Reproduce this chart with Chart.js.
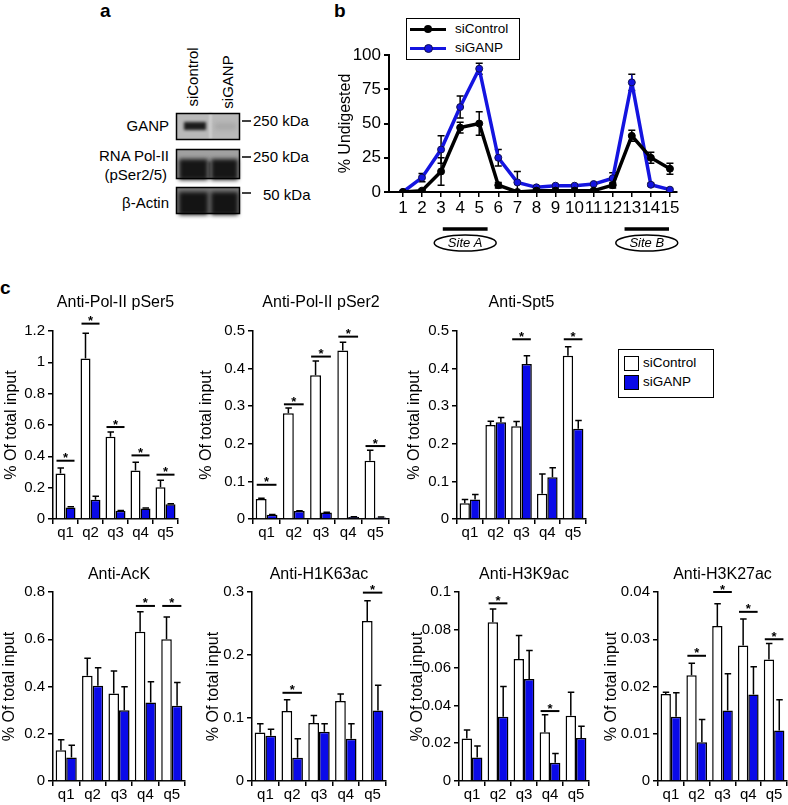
<!DOCTYPE html>
<html>
<head>
<meta charset="utf-8">
<script src="https://cdn.jsdelivr.net/npm/chart.js@4.4.1/dist/chart.umd.min.js"></script>
<style>
  html, body { margin:0; padding:0; background:#fff; width:788px; height:805px; overflow:hidden; position:relative; }
  body { font-family: 'Liberation Sans', Arial, Helvetica, sans-serif; color:#000; }
  .abs { position:absolute; white-space:nowrap; }
  canvas { position:absolute; }
  .plabel { position:absolute; font-weight:bold; font-size:19px; line-height:19px; }
  .t15 { font-size:15px; line-height:18px; }
  .t13 { font-size:13.5px; line-height:16px; }
</style>
</head>
<body>
<script>
// ---------------- DATA ----------------
const categories = ['q1', 'q2', 'q3', 'q4', 'q5'];

// panel b: restriction-digestion positions
const positions = [1,2,3,4,5,6,7,8,9,10,11,12,13,14,15];
const digestControl    = [0, 1, 15, 47, 50, 5, 0, 1, 1, 1, 1, 5, 41, 25, 17];
const digestControlErr = [0, 1, 10, 4, 8.5, 2, 0, 0, 0, 0, 0, 2, 4, 4, 4];
const digestGANP       = [0, 10.5, 31, 62, 90, 25, 7, 3.4, 4.6, 4.6, 5.8, 10, 80, 5.3, 1.7];
const digestGANPErr    = [0, 3, 10, 8, 4, 6, 8, 0, 0, 0, 0, 4, 6, 1, 0];
const digestTicks = [0, 25, 50, 75, 100];

// panel c
const pSer5Control   = [0.29, 1.025, 0.525, 0.31, 0.203];
const pSer5ControlSD = [0.035, 0.16, 0.03, 0.052, 0.044];
const pSer5GANP      = [0.074, 0.123, 0.052, 0.067, 0.094];
const pSer5GANPSD    = [0.004, 0.022, 0.003, 0.004, 0.004];
const pSer5Sig       = [0.372, 1.247, 0.587, 0.406, 0.283];

const pSer2Control   = [0.053, 0.281, 0.382, 0.448, 0.155];
const pSer2ControlSD = [0.002, 0.014, 0.038, 0.022, 0.028];
const pSer2GANP      = [0.011, 0.021, 0.017, 0.005, 0.004];
const pSer2GANPSD    = [0.001, 0.001, 0.001, 0.001, 0.001];
const pSer2Sig       = [0.091, 0.305, 0.432, 0.485, 0.194];

const spt5Control    = [0.042, 0.25, 0.247, 0.067, 0.434];
const spt5ControlSD  = [0.01, 0.01, 0.012, 0.053, 0.024];
const spt5GANP       = [0.052, 0.257, 0.412, 0.111, 0.24];
const spt5GANPSD     = [0.013, 0.013, 0.022, 0.025, 0.022];
const spt5Sig        = [null, null, 0.478, null, 0.478];

const ackControl     = [0.13, 0.445, 0.37, 0.632, 0.6];
const ackControlSD   = [0.045, 0.075, 0.096, 0.084, 0.094];
const ackGANP        = [0.1, 0.403, 0.3, 0.332, 0.318];
const ackGANPSD      = [0.051, 0.076, 0.099, 0.088, 0.099];
const ackSig         = [null, null, null, 0.741, 0.741];

const h1k63Control   = [0.077, 0.111, 0.092, 0.127, 0.254];
const h1k63ControlSD = [0.014, 0.018, 0.012, 0.011, 0.032];
const h1k63GANP      = [0.072, 0.037, 0.078, 0.067, 0.112];
const h1k63GANPSD    = [0.01, 0.03, 0.013, 0.024, 0.04];
const h1k63Sig       = [null, 0.14, null, null, 0.299];

const h3k9Control    = [0.0225, 0.084, 0.0645, 0.0258, 0.0345];
const h3k9ControlSD  = [0.0045, 0.007, 0.0125, 0.0092, 0.0125];
const h3k9GANP       = [0.0124, 0.034, 0.054, 0.0096, 0.0227];
const h3k9GANPSD     = [0.0061, 0.016, 0.015, 0.005, 0.0063];
const h3k9Sig        = [null, 0.094, null, 0.037, null];

const h3k27Control   = [0.0184, 0.0224, 0.0328, 0.0287, 0.0257];
const h3k27ControlSD = [0.0004, 0.0025, 0.0047, 0.0056, 0.0034];
const h3k27GANP      = [0.0136, 0.0082, 0.0149, 0.0183, 0.0107];
const h3k27GANPSD    = [0.0051, 0.0048, 0.0078, 0.0059, 0.0065];
const h3k27Sig       = [null, 0.0265, 0.04, 0.0358, 0.03];
</script>

<!-- panel labels -->
<div class="plabel" style="left:100px;top:1px;">a</div>
<div class="plabel" style="left:334px;top:1px;">b</div>
<div class="plabel" style="left:0px;top:278px;">c</div>

<!-- panel a : western blot -->
<div class="abs t15" style="left:158px;top:68px;width:70px;text-align:center;transform:rotate(-90deg);">siControl</div>
<div class="abs t15" style="left:193px;top:73px;width:70px;text-align:center;transform:rotate(-90deg);">siGANP</div>
<div class="abs t15" style="left:0;width:169px;text-align:right;top:117px;">GANP</div>
<div class="abs t15" style="left:0;width:169px;text-align:right;top:147px;">RNA Pol-II</div>
<div class="abs t15" style="left:0;width:167px;text-align:right;top:166px;">(pSer2/5)</div>
<div class="abs t15" style="left:0;width:169px;text-align:right;top:194px;">β-Actin</div>
<div class="abs t15" style="left:253px;top:112px;">250 kDa</div>
<div class="abs t15" style="left:253px;top:148px;">250 kDa</div>
<div class="abs t15" style="left:263px;top:186px;">50 kDa</div>
<canvas id="blot" width="90" height="115" style="left:170px;top:105px;"></canvas>

<!-- panel b legend -->
<div class="abs" style="left:406px;top:18px;width:114px;height:42px;border:1.5px solid #000;box-sizing:border-box;">
  <div class="abs" style="left:3px;top:9px;width:36px;height:3px;background:#000;"></div>
  <div class="abs" style="left:17px;top:6px;width:8px;height:8px;border-radius:50%;background:#000;"></div>
  <div class="abs t13" style="left:48px;top:2px;">siControl</div>
  <div class="abs" style="left:3px;top:28px;width:36px;height:3px;background:#1414e0;"></div>
  <div class="abs" style="left:17px;top:25px;width:7px;height:7px;border-radius:50%;background:#1414e0;border:1px solid #101050;"></div>
  <div class="abs t13" style="left:48px;top:21px;">siGANP</div>
</div>
<canvas id="chartB" width="346" height="260" style="left:336px;top:0px;"></canvas>

<!-- panel c legend -->
<div class="abs" style="left:618px;top:349px;width:96px;height:49px;border:1.5px solid #000;box-sizing:border-box;">
  <div class="abs" style="left:5px;top:6px;width:13px;height:13px;border:1px solid #000;background:#fff;"></div>
  <div class="abs t13" style="left:24px;top:5px;">siControl</div>
  <div class="abs" style="left:5px;top:25px;width:13px;height:13px;border:1px solid #000;background:#0a0ae8;"></div>
  <div class="abs t13" style="left:24px;top:24px;">siGANP</div>
</div>

<canvas id="c1" width="177" height="265" style="left:2px;top:280px;"></canvas>
<canvas id="c2" width="193" height="265" style="left:197px;top:280px;"></canvas>
<canvas id="c3" width="182" height="265" style="left:405px;top:280px;"></canvas>
<canvas id="c4" width="186" height="257" style="left:0px;top:548px;"></canvas>
<canvas id="c5" width="183" height="257" style="left:204px;top:548px;"></canvas>
<canvas id="c6" width="182" height="257" style="left:408px;top:548px;"></canvas>
<canvas id="c7" width="186" height="257" style="left:602px;top:548px;"></canvas>

<script>
const FONT = "'Liberation Sans', Arial, Helvetica, sans-serif";
const BLUE = '#0a0ae8';
Chart.defaults.font.family = FONT;
Chart.defaults.color = '#000';

// ---------- blot (panel a image, not a chart) ----------
(function drawBlot() {
  const c = document.getElementById('blot');
  const ctx = c.getContext('2d');
  const ox = 170, oy = 105;
  function box(y0, y1, bg) {
    ctx.fillStyle = bg;
    ctx.fillRect(176 - ox, y0 - oy, 64, y1 - y0);
  }
  function band(x0, x1, y0, y1, col, blur) {
    ctx.save();
    ctx.filter = 'blur(' + blur + 'px)';
    ctx.fillStyle = col;
    ctx.fillRect(x0 - ox, y0 - oy, x1 - x0, y1 - y0);
    ctx.restore();
  }
  function frame(y0, y1) {
    ctx.strokeStyle = '#000'; ctx.lineWidth = 1.5;
    ctx.strokeRect(176.5 - ox, y0 - oy + 0.5, 63, y1 - y0);
  }
  // GANP
  box(113, 139, '#b9b9b9');
  band(209, 212, 113, 139, '#cdcdcd', 1);
  band(184, 206, 122, 130, '#1c1c1c', 1.5);
  band(215, 236, 123, 130, '#a8a8a8', 2);
  frame(113, 139);
  // Pol II
  box(149, 178, '#a0a0a0');
  band(179, 208, 159, 180, '#161616', 2);
  band(211, 238, 159, 180, '#161616', 2);
  band(208, 211, 162, 178, '#3a3a3a', 1);
  frame(149, 178);
  // actin
  box(187, 213, '#7a7a7a');
  band(179, 208, 192, 215, '#141414', 2);
  band(211, 238, 192, 215, '#141414', 2);
  frame(187, 213);
  ctx.clearRect(0, 0, 5, 115);
  // marker ticks
  ctx.strokeStyle = '#000'; ctx.lineWidth = 1.5;
  [121, 157, 193].forEach(y => {
    ctx.beginPath(); ctx.moveTo(242 - ox, y - oy); ctx.lineTo(251 - ox, y - oy); ctx.stroke();
  });
})();

// ---------- plugins ----------
const barExtras = {
  id: 'barExtras',
  afterDatasetsDraw(chart, args, opts) {
    const ctx = chart.ctx, ys = chart.scales.y;
    ctx.save();
    ctx.strokeStyle = '#000';
    ctx.lineWidth = 1.5;
    chart.data.datasets.forEach((ds, di) => {
      const meta = chart.getDatasetMeta(di);
      meta.data.forEach((bar, i) => {
        const sd = ds.errors[i];
        if (!sd) return;
        const top = ys.getPixelForValue(ds.data[i] + sd);
        ctx.beginPath();
        ctx.moveTo(bar.x, bar.y);
        ctx.lineTo(bar.x, top);
        ctx.moveTo(bar.x - 3, top);
        ctx.lineTo(bar.x + 3.5, top);
        ctx.stroke();
      });
    });
    const sig = opts.sig || [];
    const m0 = chart.getDatasetMeta(0), m1 = chart.getDatasetMeta(1);
    ctx.fillStyle = '#000';
    ctx.font = 'bold 13px ' + FONT;
    ctx.textAlign = 'center';
    ctx.textBaseline = 'alphabetic';
    sig.forEach((v, i) => {
      if (v == null) return;
      const a = m0.data[i], b = m1.data[i];
      const x0 = a.x - a.width / 2 + 1, x1 = b.x + b.width / 2 - 1;
      const y = ys.getPixelForValue(v);
      ctx.lineWidth = 2;
      ctx.beginPath(); ctx.moveTo(x0, y); ctx.lineTo(x1, y); ctx.stroke();
      ctx.fillText('*', (x0 + x1) / 2, y + 1.5);
    });
    ctx.restore();
  }
};

function barChart(id, title, ctrl, ctrlSD, ganp, ganpSD, sig, yMax, yStep, yWidth, row) {
  return new Chart(document.getElementById(id), {
    type: 'bar',
    data: {
      labels: categories,
      datasets: [
        { label: 'siControl', data: ctrl, errors: ctrlSD, backgroundColor: '#ffffff', borderColor: '#000', borderWidth: 1.5, categoryPercentage: 0.8, barPercentage: 1.0 },
        { label: 'siGANP', data: ganp, errors: ganpSD, backgroundColor: BLUE, borderColor: '#000', borderWidth: 1.5, categoryPercentage: 0.8, barPercentage: 1.0 }
      ]
    },
    options: {
      responsive: false, maintainAspectRatio: false, animation: false, devicePixelRatio: 1,
      layout: { padding: { left: 0, right: 1, top: 0, bottom: 0 } },
      plugins: {
        legend: { display: false },
        tooltip: { enabled: false },
        title: { display: true, text: title, fullSize: false, color: '#000',
                 font: { size: 16, family: FONT, weight: 'normal' },
                 padding: { top: row.tTop, bottom: row.tBot } },
        barExtras: { sig: sig }
      },
      scales: {
        x: {
          grid: { display: true, offset: true, drawOnChartArea: false, drawTicks: true, tickLength: 5, color: '#000', lineWidth: 1.5 },
          border: { display: true, color: '#000', width: 1.5 },
          ticks: { color: '#000', font: { size: 15, family: FONT }, padding: 0, maxRotation: 0, autoSkip: false },
          afterFit: s => { s.height = row.xH; }
        },
        y: {
          min: 0, max: yMax,
          ticks: { stepSize: yStep, color: '#000', font: { size: 15, family: FONT }, padding: 3,
                   callback: v => String(+v.toFixed(3)) },
          grid: { drawOnChartArea: false, drawTicks: true, tickLength: 5, color: '#000', lineWidth: 1.5 },
          border: { color: '#000', width: 1.5 },
          title: { display: true, text: '% Of total input', color: '#000', font: { size: 16, family: FONT }, padding: 0 },
          afterFit: s => { s.width = yWidth; }
        }
      }
    },
    plugins: [barExtras]
  });
}

const topRow = { tTop: 13.4, tBot: 18.4, xH: 26 };
const botRow = { tTop: 17.4, tBot: 7.4, xH: 24 };

barChart('c1', 'Anti-Pol-II pSer5', pSer5Control, pSer5ControlSD, pSer5GANP, pSer5GANPSD, pSer5Sig, 1.2, 0.2, 51, topRow);
barChart('c2', 'Anti-Pol-II pSer2', pSer2Control, pSer2ControlSD, pSer2GANP, pSer2GANPSD, pSer2Sig, 0.5, 0.1, 56, topRow);
barChart('c3', 'Anti-Spt5', spt5Control, spt5ControlSD, spt5GANP, spt5GANPSD, spt5Sig, 0.5, 0.1, 52, topRow);
barChart('c4', 'Anti-AcK', ackControl, ackControlSD, ackGANP, ackGANPSD, ackSig, 0.8, 0.2, 53, botRow);
barChart('c5', 'Anti-H1K63ac', h1k63Control, h1k63ControlSD, h1k63GANP, h1k63GANPSD, h1k63Sig, 0.3, 0.1, 48, botRow);
barChart('c6', 'Anti-H3K9ac', h3k9Control, h3k9ControlSD, h3k9GANP, h3k9GANPSD, h3k9Sig, 0.1, 0.02, 51, botRow);
barChart('c7', 'Anti-H3K27ac', h3k27Control, h3k27ControlSD, h3k27GANP, h3k27GANPSD, h3k27Sig, 0.04, 0.01, 56, botRow);

// ---------- panel b ----------
const lineExtras = {
  id: 'lineExtras',
  beforeDatasetsDraw(chart) {
    const ctx = chart.ctx, ys = chart.scales.y;
    ctx.save();
    ctx.strokeStyle = '#000';
    ctx.lineWidth = 1.5;
    chart.data.datasets.forEach((ds, di) => {
      const meta = chart.getDatasetMeta(di);
      meta.data.forEach((pt, i) => {
        const e = ds.errors[i];
        if (!e) return;
        const v = ds.data[i].y;
        const t = ys.getPixelForValue(v + e), b = ys.getPixelForValue(Math.max(0, v - e));
        ctx.beginPath();
        ctx.moveTo(pt.x, t); ctx.lineTo(pt.x, b);
        ctx.moveTo(pt.x - 3.5, t); ctx.lineTo(pt.x + 3.5, t);
        ctx.moveTo(pt.x - 3.5, b); ctx.lineTo(pt.x + 3.5, b);
        ctx.stroke();
      });
    });
    ctx.restore();
  },
  afterDraw(chart) {
    const ctx = chart.ctx, xs = chart.scales.x;
    const yb = chart.chartArea.bottom;
    ctx.save();
    ctx.strokeStyle = '#000';
    const sites = [['Site A', 3.09, 5.44], ['Site B', 12.62, 14.95]];
    sites.forEach(([name, a, b]) => {
      const x0 = xs.getPixelForValue(a), x1 = xs.getPixelForValue(b);
      const cx = (x0 + x1) / 2;
      ctx.lineWidth = 3.5;
      ctx.beginPath(); ctx.moveTo(x0, yb + 37); ctx.lineTo(x1, yb + 37); ctx.stroke();
      ctx.lineWidth = 1.5;
      ctx.beginPath(); ctx.ellipse(cx, yb + 51, 31, 8, 0, 0, Math.PI * 2); ctx.stroke();
      ctx.fillStyle = '#000';
      ctx.font = 'italic 13px ' + FONT;
      ctx.textAlign = 'center'; ctx.textBaseline = 'middle';
      ctx.fillText(name, cx, yb + 51);
    });
    ctx.restore();
  }
};

new Chart(document.getElementById('chartB'), {
  type: 'line',
  data: {
    datasets: [
      { label: 'siControl', data: positions.map((p, i) => ({ x: p, y: digestControl[i] })), errors: digestControlErr,
        borderColor: '#000', backgroundColor: '#000', borderWidth: 3.5, pointRadius: 3.5,
        pointBackgroundColor: '#000', pointBorderColor: '#000', pointBorderWidth: 1, tension: 0 },
      { label: 'siGANP', data: positions.map((p, i) => ({ x: p, y: digestGANP[i] })), errors: digestGANPErr,
        borderColor: '#1414e0', backgroundColor: '#1414e0', borderWidth: 3.5, pointRadius: 3.5,
        pointBackgroundColor: '#1414e0', pointBorderColor: '#101050', pointBorderWidth: 1, tension: 0 }
    ]
  },
  options: {
    responsive: false, maintainAspectRatio: false, animation: false, devicePixelRatio: 1,
    layout: { padding: { left: 0, right: 4, top: 55, bottom: 44 } },
    plugins: { legend: { display: false }, tooltip: { enabled: false } },
    scales: {
      x: {
        type: 'linear', min: 0.27, max: 15.37,
        afterBuildTicks: s => { s.ticks = positions.map(v => ({ value: v })); },
        grid: { drawOnChartArea: false, drawTicks: true, tickLength: 5, color: '#000', lineWidth: 1.5 },
        border: { color: '#000', width: 2 },
        ticks: { color: '#000', font: { size: 17, family: FONT }, padding: 1, maxRotation: 0, autoSkip: false },
        afterFit: s => { s.height = 24; }
      },
      y: {
        min: 0, max: 100,
        afterBuildTicks: s => { s.ticks = digestTicks.map(v => ({ value: v })); },
        ticks: { color: '#000', font: { size: 17, family: FONT }, padding: 3 },
        grid: { drawOnChartArea: false, drawTicks: true, tickLength: 5, color: '#000', lineWidth: 2 },
        border: { color: '#000', width: 2 },
        title: { display: true, text: '% Undigested', color: '#000', font: { size: 16, family: FONT }, padding: 0 },
        afterFit: s => { s.width = 53; }
      }
    }
  },
  plugins: [lineExtras]
});
</script>
</body>
</html>
